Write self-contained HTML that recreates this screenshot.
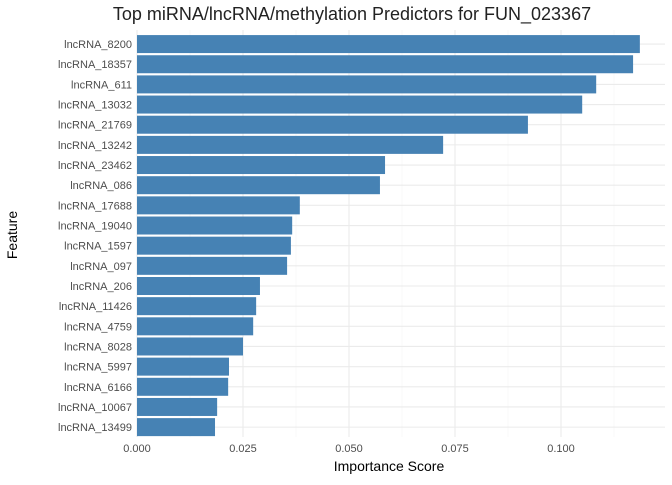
<!DOCTYPE html>
<html><head><meta charset="utf-8"><style>
body{margin:0;background:#fff;font-family:"Liberation Sans",sans-serif;}
</style></head><body>
<svg id="chart" width="672" height="480" xmlns="http://www.w3.org/2000/svg">
<text x="352" y="20" text-anchor="middle" font-size="18" fill="#222">Top miRNA/lncRNA/methylation Predictors for FUN_023367</text>
<g id="grid"></g><g id="bars"></g><g id="ylabels"></g><g id="xlabels"></g>
<text x="389" y="471" text-anchor="middle" font-size="14" fill="#000">Importance Score</text>
<text x="17" y="235" text-anchor="middle" font-size="14" fill="#000" transform="rotate(-90 17 235)">Feature</text>
</svg>
<script>
const features=["lncRNA_8200","lncRNA_18357","lncRNA_611","lncRNA_13032","lncRNA_21769","lncRNA_13242","lncRNA_23462","lncRNA_086","lncRNA_17688","lncRNA_19040","lncRNA_1597","lncRNA_097","lncRNA_206","lncRNA_11426","lncRNA_4759","lncRNA_8028","lncRNA_5997","lncRNA_6166","lncRNA_10067","lncRNA_13499"];
const values=[0.1186,0.117,0.1083,0.105,0.0922,0.0722,0.0585,0.0573,0.0384,0.0366,0.0363,0.0354,0.029,0.0281,0.0274,0.025,0.0217,0.0215,0.0189,0.0184];
const ticks=[0,0.025,0.05,0.075,0.1];
const tickLabels=["0.000","0.025","0.050","0.075","0.100"];
const NS="http://www.w3.org/2000/svg";
const x0=137,scale=4240,topY=34,step=20.16,leftX=110,rightX=665,bottomY=437;
const X=v=>x0+v*scale;
const Y=i=>topY+i*step+step/2;
function mk(t,a,p){const e=document.createElementNS(NS,t);for(const k in a)e.setAttribute(k,a[k]);document.getElementById(p).appendChild(e);return e;}
for(let v=0.0125;X(v)<rightX;v+=0.025){const g=mk('line',{x1:X(v),x2:X(v),y1:30,y2:bottomY,stroke:'#f3f3f3','stroke-width':0.6},'grid');

}
ticks.forEach((v,i)=>{const g=mk('line',{x1:X(v),x2:X(v),y1:30,y2:bottomY,stroke:'#ebebeb','stroke-width':1.1},'grid');


const t=mk('text',{x:X(v),y:452,'text-anchor':'middle','font-size':11,fill:'#4d4d4d'},'xlabels');t.textContent=tickLabels[i];

});
features.forEach((f,i)=>{const g=mk('line',{x1:leftX+27,x2:rightX,y1:Y(i),y2:Y(i),stroke:'#ebebeb','stroke-width':1.1},'grid');


const b=mk('rect',{x:X(0),y:Y(i)-9,width:X(values[i])-X(0),height:18,fill:'#4682b4'},'bars');


const t=mk('text',{x:132,y:Y(i)+4,'text-anchor':'end','font-size':11,fill:'#4d4d4d'},'ylabels');t.textContent=f;

});
</script>
</body></html>
